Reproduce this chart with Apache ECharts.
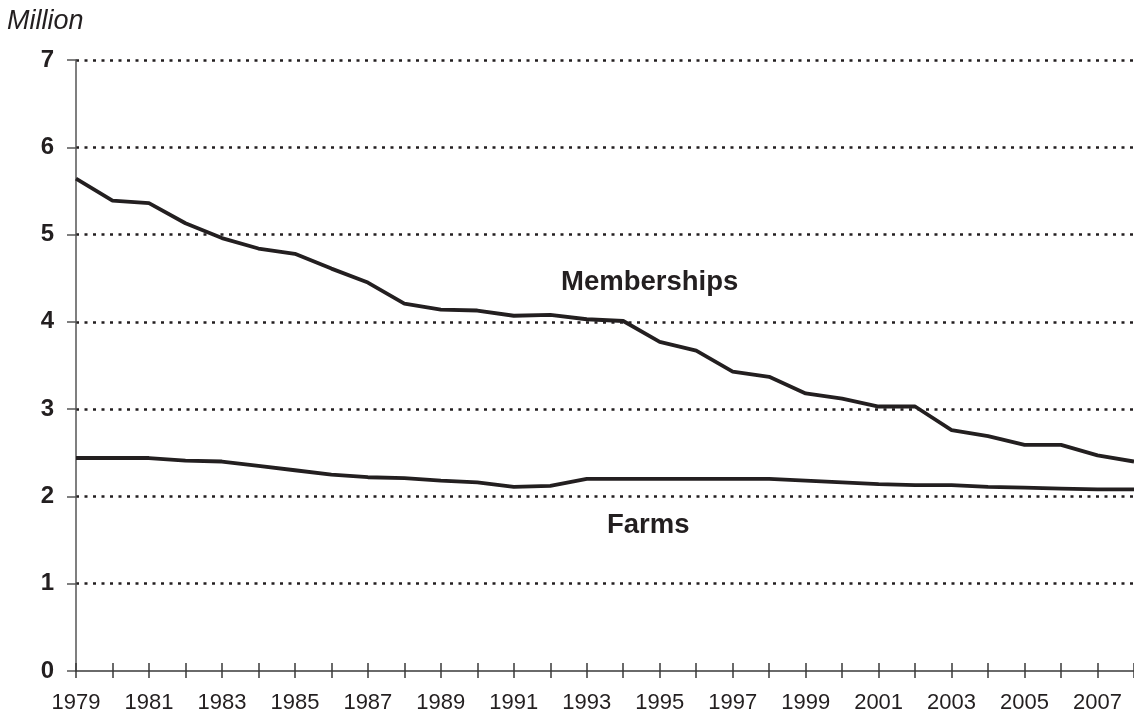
<!DOCTYPE html>
<html>
<head>
<meta charset="utf-8">
<script src="https://cdn.jsdelivr.net/npm/echarts@6/dist/echarts.min.js"></script>
<style>
html,body{margin:0;padding:0;background:#fff;}
#chart{width:1134px;height:715px;}
</style>
</head>
<body>
<div id="chart"></div>
<script>
const years = ['1979','1980','1981','1982','1983','1984','1985','1986','1987','1988','1989','1990','1991','1992','1993','1994','1995','1996','1997','1998','1999','2000','2001','2002','2003','2004','2005','2006','2007','2008'];
const memberships = [5.64,5.39,5.36,5.13,4.96,4.84,4.78,4.61,4.45,4.21,4.14,4.13,4.07,4.08,4.03,4.01,3.77,3.67,3.43,3.37,3.18,3.12,3.03,3.03,2.76,2.69,2.59,2.59,2.47,2.40];
const farms = [2.44,2.44,2.44,2.41,2.40,2.35,2.30,2.25,2.22,2.21,2.18,2.16,2.11,2.12,2.20,2.20,2.20,2.20,2.20,2.20,2.18,2.16,2.14,2.13,2.13,2.11,2.10,2.09,2.08,2.08];
const yTicks = [0,1,2,3,4,5,6,7];
const unitLabel = 'Million';
const seriesNames = ['Memberships','Farms'];

const ink = '#231f20';
const font = '"Liberation Sans", Arial, sans-serif';
const chart = echarts.init(document.getElementById('chart'), null, {renderer:'canvas'});
chart.setOption({
  animation:false,
  backgroundColor:'#fff',
  grid:{left:76,right:0,top:60,bottom:44,containLabel:false},
  xAxis:[{
    type:'category', data:years, boundaryGap:false,
    axisLine:{show:true,lineStyle:{color:'#3a3a3a',width:1.5}},
    axisTick:{show:true,interval:0,length:7,lineStyle:{color:'#3a3a3a',width:1.5}},
    axisLabel:{interval:1,margin:21,fontFamily:font,fontSize:22,color:ink},
    splitLine:{show:false},
    z:5
  },{
    type:'category', data:years, boundaryGap:false, position:'bottom',
    axisLine:{show:false},
    axisTick:{show:true,inside:true,interval:0,length:8,lineStyle:{color:'#3a3a3a',width:1.5}},
    axisLabel:{show:false},
    splitLine:{show:false}
  }],
  yAxis:{
    type:'value', min:yTicks[0], max:yTicks[yTicks.length-1], interval:1,
    name:unitLabel, nameLocation:'end', nameGap:0,
    nameTextStyle:{fontFamily:font,fontStyle:'italic',fontSize:27,color:ink,align:'left',verticalAlign:'bottom',padding:[0,0,25,-69]},
    axisLine:{show:true,lineStyle:{color:'#555',width:1.5}},
    axisTick:{show:true,length:9,lineStyle:{color:'#555',width:1.5}},
    axisLabel:{margin:22,fontFamily:font,fontSize:24,fontWeight:'bold',color:ink},
    splitLine:{show:true,showMinLine:false,lineStyle:{color:ink,width:2.5,type:[3,5.5]}}
  },
  series:[{
    name:seriesNames[0], type:'line', data:memberships, symbol:'none',
    lineStyle:{color:ink,width:3.8}, xAxisIndex:0
  },{
    name:seriesNames[1], type:'line', data:farms, symbol:'none',
    lineStyle:{color:ink,width:3.8}, xAxisIndex:0
  }],
  graphic:[
    {type:'text',left:561,top:268,style:{text:seriesNames[0],font:'bold 27.5px '+font,fill:ink}},
    {type:'text',left:607,top:511,style:{text:seriesNames[1],font:'bold 27.5px '+font,fill:ink}}
  ]
});
</script>
</body>
</html>
